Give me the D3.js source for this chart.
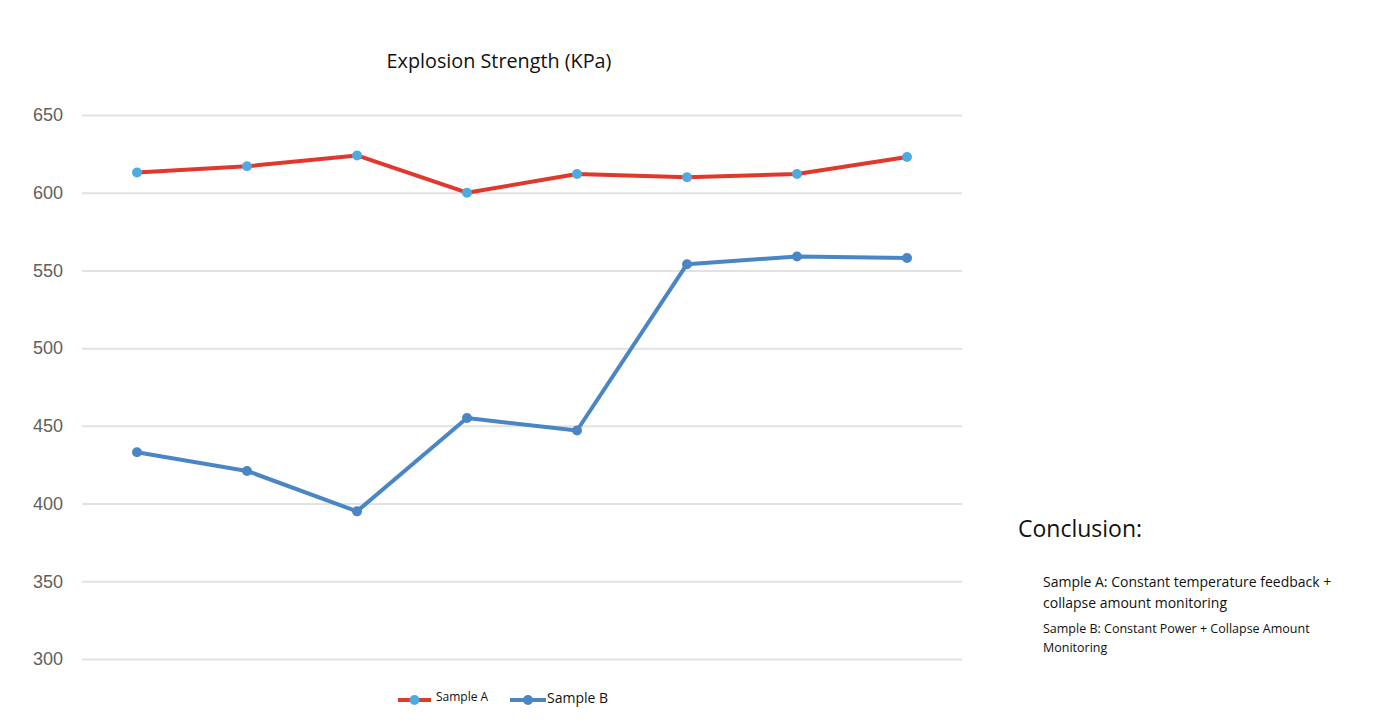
<!DOCTYPE html>
<html>
<head>
<meta charset="utf-8">
<script src="https://cdn.jsdelivr.net/npm/d3@7"></script>
<style>
  body { margin: 0; background: #fff; }
  svg { display: block; }
</style>
</head>
<body>
<div class="chart"></div>
<script>
// data
const categories = ["1", "2", "3", "4", "5", "6", "7", "8"];
const sampleA = [613, 617, 624, 600, 612, 610, 612, 623];
const sampleB = [433, 421, 395, 455, 447, 554, 559, 558];
const yTicks = [300, 350, 400, 450, 500, 550, 600, 650];
const seriesNames = ["Sample A", "Sample B"];
const conclusionLines = [
  "Sample A: Constant temperature feedback +",
  "collapse amount monitoring",
  "Sample B: Constant Power + Collapse Amount",
  "Monitoring"
];

const W = 1386, H = 728;
const margin = { top: 115, right: 424, bottom: 69, left: 82 };
const width = W - margin.left - margin.right,
  height = H - margin.top - margin.bottom;

const svg = d3
  .select(".chart")
  .append("svg")
  .attr("width", W)
  .attr("height", H);

const g = svg
  .append("g")
  .attr("transform", "translate(" + margin.left + "," + margin.top + ")");

var x = d3.scalePoint().domain(categories).range([0, width]).padding(0.5);
var y = d3.scaleLinear().domain([300, 650]).range([height, 0]);

// grid lines + labels
g.append("g")
  .call(d3.axisLeft(y).tickValues(yTicks).tickSize(-width).tickFormat(d3.format("d")).tickPadding(19))
  .call((a) => a.select(".domain").remove())
  .call((a) => a.selectAll(".tick line").attr("stroke", "#e2e2e2").attr("stroke-width", 2))
  .call((a) =>
    a.selectAll(".tick text")
      .attr("fill", "#606060")
      .attr("font-family", "Liberation Sans, Arial, sans-serif")
      .attr("font-size", 18)
  );

svg.append("text")
  .attr("x", 499)
  .attr("y", 68)
  .attr("text-anchor", "middle")
  .attr("font-family", "Open Sans, sans-serif")
  .attr("font-size", 19.8)
  .attr("fill", "#111")
  .text("Explosion Strength (KPa)");

const series = [
  { name: seriesNames[0], values: sampleA, line: "#e2382c", dot: "#4eabe2" },
  { name: seriesNames[1], values: sampleB, line: "#4a86c6", dot: "#4a86c6" }
];

var line = d3
  .line()
  .x(function (d, i) { return x(categories[i]); })
  .y(function (d) { return y(d); });

series.forEach(function (s) {
  g.append("path")
    .datum(s.values)
    .attr("fill", "none")
    .attr("stroke", s.line)
    .attr("stroke-width", 4)
    .attr("stroke-linejoin", "round")
    .attr("d", line);

  g.selectAll(null)
    .data(s.values)
    .enter()
    .append("circle")
    .attr("cx", function (d, i) { return x(categories[i]); })
    .attr("cy", function (d) { return y(d); })
    .attr("r", 5)
    .attr("fill", s.dot);
});

// legend
const legendPos = [
  { x: 398, w: 33, tx: 436, fs: 12 },
  { x: 510, w: 36, tx: 547, fs: 14 }
];
series.forEach(function (s, i) {
  const p = legendPos[i];
  const lg = svg.append("g").attr("transform", "translate(" + p.x + ",700)");
  lg.append("line")
    .attr("x1", 0).attr("x2", p.w)
    .attr("y1", 0).attr("y2", 0)
    .attr("stroke", s.line)
    .attr("stroke-width", 4);
  lg.append("circle")
    .attr("cx", p.w / 2)
    .attr("cy", 0)
    .attr("r", 5)
    .attr("fill", s.dot);
  svg.append("text")
    .attr("x", p.tx)
    .attr("y", i == 0 ? 701 : 703)
    .attr("font-family", "Open Sans, sans-serif")
    .attr("font-size", p.fs)
    .attr("fill", "#111")
    .text(s.name);
});

// conclusion notes
svg.append("text")
  .attr("x", 1018)
  .attr("y", 537)
  .attr("font-family", "Open Sans, sans-serif")
  .attr("font-size", 23)
  .attr("fill", "#111")
  .text("Conclusion:");

const noteY = [587, 608, 633, 652];
const noteSize = [14, 14, 12.5, 12.5];
conclusionLines.forEach(function (t, i) {
  svg.append("text")
    .attr("x", 1043)
    .attr("y", noteY[i])
    .attr("font-family", "Open Sans, sans-serif")
    .attr("font-size", noteSize[i])
    .attr("fill", "#111")
    .text(t);
});
</script>
</body>
</html>
